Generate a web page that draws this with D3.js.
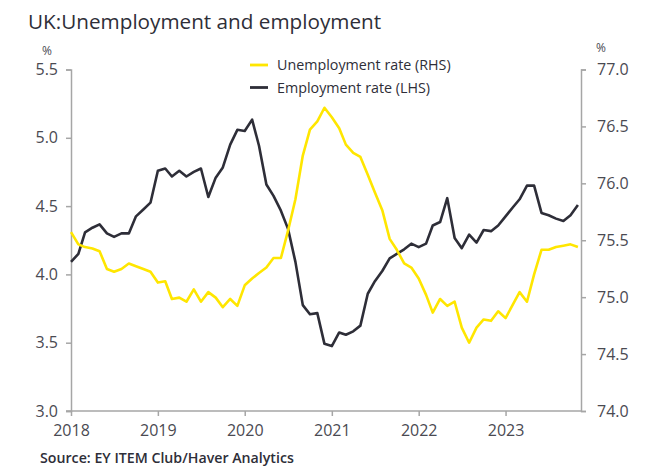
<!DOCTYPE html>
<html>
<head>
<meta charset="utf-8">
<script src="https://cdn.jsdelivr.net/npm/d3@7"></script>
<style>
  html, body { margin: 0; padding: 0; background: #fff; }
  svg { display: block; font-family: "Open Sans", "Noto Sans", sans-serif; }
</style>
</head>
<body>
<svg id="chart" width="655" height="468"></svg>
<script>
// Monthly series, January 2018 to November 2023
const startYear = 2018;
const unemploymentRate = [
  4.31, 4.22, 4.20, 4.19, 4.17, 4.04, 4.02, 4.04, 4.08, 4.06, 4.04, 4.02,
  3.94, 3.95, 3.82, 3.83, 3.80, 3.89, 3.80, 3.87, 3.83, 3.76, 3.82, 3.77,
  3.92, 3.97, 4.01, 4.05, 4.12, 4.12, 4.32, 4.55, 4.87, 5.06, 5.12, 5.22,
  5.15, 5.07, 4.95, 4.89, 4.86, 4.73, 4.60, 4.47, 4.26, 4.18, 4.08, 4.05,
  3.97, 3.85, 3.72, 3.82, 3.77, 3.80, 3.61, 3.50, 3.61, 3.67, 3.66, 3.73,
  3.68, 3.78, 3.87, 3.80, 4.00, 4.18, 4.18, 4.20, 4.21, 4.22, 4.20
];
const employmentRate = [
  75.31, 75.38, 75.57, 75.61, 75.64, 75.56, 75.53, 75.56, 75.56, 75.71, 75.77, 75.83,
  76.11, 76.13, 76.06, 76.11, 76.06, 76.10, 76.13, 75.88, 76.05, 76.14, 76.34, 76.47,
  76.46, 76.56, 76.33, 75.99, 75.89, 75.76, 75.60, 75.31, 74.93, 74.85, 74.86, 74.59,
  74.57, 74.69, 74.67, 74.70, 74.75, 75.03, 75.14, 75.23, 75.34, 75.38, 75.42, 75.47,
  75.44, 75.47, 75.63, 75.66, 75.87, 75.52, 75.43, 75.55, 75.48, 75.59, 75.58, 75.63,
  75.71, 75.79, 75.86, 75.98, 75.98, 75.74, 75.72, 75.69, 75.67, 75.72, 75.81
];
const leftTicks = [3.0, 3.5, 4.0, 4.5, 5.0, 5.5];
const rightTicks = [74.0, 74.5, 75.0, 75.5, 76.0, 76.5, 77.0];
const yearTicks = [2018, 2019, 2020, 2021, 2022, 2023];
const seriesNames = ["Unemployment rate (RHS)", "Employment rate (LHS)"];
const titleText = "UK:Unemployment and employment";
const sourceText = "Source: EY ITEM Club/Haver Analytics";

const dates = unemploymentRate.map((_, i) => new Date(startYear, i, 1));

const yellow = "#FFE600";
const dark = "#2E2E38";
const axisGrey = "#a6a6a6";
const textGrey = "#4a4a52";

const svg = d3.select("#chart");
const plot = { left: 71, right: 581, top: 69.5, bottom: 411 };

const x = d3.scaleTime()
  .domain([new Date(startYear, 0, 1), new Date(2023, 10, 14)])
  .range([plot.left, plot.right]);
const yLeft = d3.scaleLinear().domain([3.0, 5.5]).range([plot.bottom, plot.top]);
const yRight = d3.scaleLinear().domain([74.0, 77.0]).range([plot.bottom, plot.top]);

// Title
svg.append("text")
  .attr("x", 28).attr("y", 29)
  .attr("fill", "#2e2e38")
  .attr("font-size", 20.7)
  .text(titleText);

// Left axis
const gl = svg.append("g")
  .attr("transform", `translate(${plot.left},0)`)
  .call(d3.axisLeft(yLeft).tickValues(leftTicks).tickFormat(d3.format(".1f")).tickSize(5).tickPadding(8));

// Right axis
const gr = svg.append("g")
  .attr("transform", `translate(${plot.right},0)`)
  .call(d3.axisRight(yRight).tickValues(rightTicks).tickFormat(d3.format(".1f")).tickSize(5).tickPadding(11));

// Bottom axis
const gb = svg.append("g")
  .attr("transform", `translate(0,${plot.bottom})`)
  .call(d3.axisBottom(x)
    .tickValues(yearTicks.map(yy => new Date(yy, 0, 1)))
    .tickFormat(d3.timeFormat("%Y"))
    .tickSize(5).tickPadding(9).tickSizeOuter(0));

[gl, gr, gb].forEach(g => {
  g.selectAll(".domain").attr("stroke", axisGrey).attr("stroke-width", 1.5);
  g.selectAll(".tick line").attr("stroke", axisGrey).attr("stroke-width", 1.5);
  g.selectAll(".tick text")
    .attr("fill", textGrey)
    .attr("font-size", 16)
    .attr("font-family", "\"Open Sans\", sans-serif");
});
// bottom domain reaches across the full plot width
gb.select(".domain").attr("d", `M${plot.left - 5},0H${plot.right}`);

// Unit labels
svg.append("text").attr("x", 42).attr("y", 55).attr("fill", textGrey)
  .attr("font-size", 12).text("%");
svg.append("text").attr("x", 596).attr("y", 52).attr("fill", textGrey)
  .attr("font-size", 12).text("%");

// Series lines
const lineUnemp = d3.line()
  .x((d, i) => x(dates[i]))
  .y(d => yLeft(d));
const lineEmp = d3.line()
  .x((d, i) => x(dates[i]))
  .y(d => yRight(d));

svg.append("path")
  .datum(employmentRate)
  .attr("fill", "none")
  .attr("stroke", dark)
  .attr("stroke-width", 2.6)
  .attr("stroke-linejoin", "round")
  .attr("d", lineEmp);

svg.append("path")
  .datum(unemploymentRate)
  .attr("fill", "none")
  .attr("stroke", yellow)
  .attr("stroke-width", 2.6)
  .attr("stroke-linejoin", "round")
  .attr("d", lineUnemp);

// Legend
const legend = svg.append("g");
[yellow, dark].forEach((c, i) => {
  const yy = 65 + i * 22.5;
  legend.append("line")
    .attr("x1", 250).attr("x2", 268)
    .attr("y1", yy).attr("y2", yy)
    .attr("stroke", c).attr("stroke-width", 2.8);
  legend.append("text")
    .attr("x", 277).attr("y", yy + 5)
    .attr("fill", "#2e2e38")
    .attr("font-size", 14.3)
    .text(seriesNames[i]);
});

// Source note
svg.append("text")
  .attr("x", 40).attr("y", 463)
  .attr("fill", "#2e2e38")
  .attr("font-size", 14.2)
  .attr("font-weight", 600)
  .text(sourceText);
</script>
</body>
</html>
